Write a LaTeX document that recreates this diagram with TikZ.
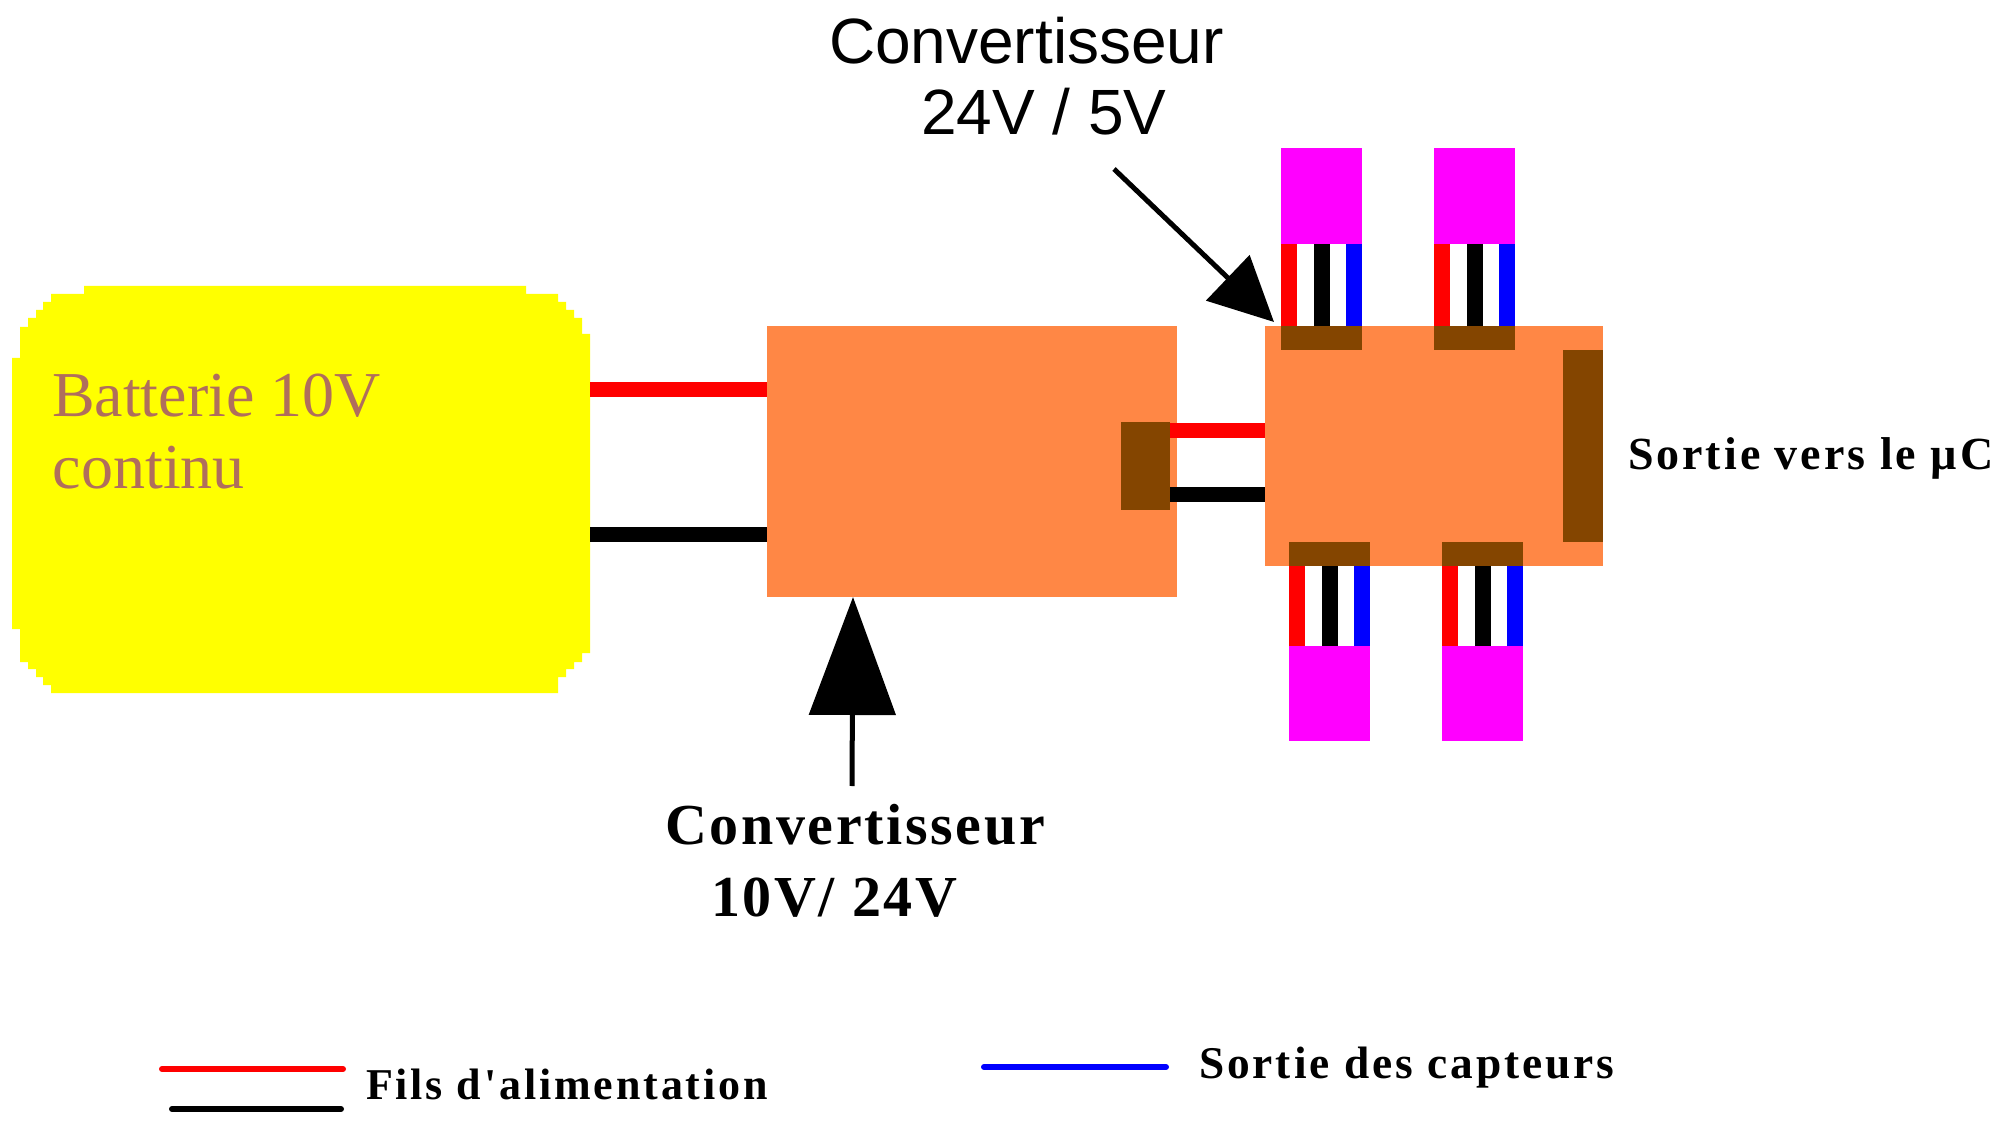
\documentclass[tikz,border=0pt]{standalone}
\usepackage{fontspec}
\setmainfont{Liberation Serif}
\newfontfamily\arialf{Liberation Sans}
\newfontfamily\bolda[LetterSpace=4.6]{Liberation Serif Bold}
\newfontfamily\boldb[LetterSpace=6.5]{Liberation Serif Bold}
\usetikzlibrary{arrows.meta,calc}
\definecolor{orangebox}{HTML}{FF8745}
\definecolor{brownpad}{HTML}{844500}
\definecolor{battxt}{HTML}{B06E5C}
\definecolor{battyellow}{HTML}{FFFF00}
\definecolor{sensmagenta}{HTML}{FF00FF}
\definecolor{wirered}{HTML}{FF0000}
\definecolor{wireblue}{HTML}{0000FF}
\tikzset{
  rectbox/.style n args={3}{minimum width=#1*0.5pt,minimum height=#2*0.5pt,anchor=north west,inner sep=0pt,outer sep=0pt,fill=#3},
  txt/.style={anchor=base west,inner sep=0pt,outer sep=0pt},
  bigwire/.style={line width=7.5pt,#1},
  pinwire/.style={line width=8pt,#1},
  legendwire/.style={line width=3pt,line cap=round,#1},
  bigarrow/.style n args={2}{line width=2.5pt,-{Triangle[length=#1,width=#2]}},
  sanslabel/.style={txt,font=\arialf\fontsize{32pt}{36pt}\selectfont},
  battlabel/.style={txt,text=battxt,font=\fontsize{32pt}{36pt}\selectfont},
  convlabel/.style={txt,font=\bolda\fontsize{29pt}{32pt}\selectfont},
  smalllabel/.style={txt,font=\boldb\fontsize{#1}{26pt}\selectfont}
}
\begin{document}
\begin{tikzpicture}[x=0.5pt,y=-0.5pt]
\useasboundingbox (0,0) rectangle (2013,1128);
% battery
\fill[battyellow] (84,286) -- (526,286) |- (558,294) |- (566,302) |- (574,310) |- (582,318) |- (590,334) -- (590,653)
  -| (582,662) -| (574,669) -| (566,677) -| (558,693) -- (51,693) |- (43,685) |- (36,677) |- (28,669) |- (20,662) |- (12,629)
  -- (12,358) -| (20,327) -| (28,318) -| (36,310) -| (43,302) -| (51,294) -| cycle;
\node[rectbox={578}{407}{none}] (bat) at (12,286) {};
\node[battlabel] (battxt1) at (52,416) {Batterie 10V};
\node[battlabel] (battxt2) at (53,488) {continu};
% converters
\node[rectbox={410}{271}{orangebox}] (conva) at (767,326) {};
\node[rectbox={338}{240}{orangebox}] (convb) at (1265,326) {};
\node[rectbox={49}{88}{brownpad}] (padout) at (1121,422) {};
\node[rectbox={40}{192}{brownpad}] (padright) at (1563,350) {};
% wires
\coordinate (ya) at (0,390);
\coordinate (yb) at (0,534);
\coordinate (yc) at (0,430.5);
\coordinate (yd) at (0,494);
\draw[bigwire=wirered] (bat.east |- ya) -- (conva.west |- ya);
\draw[bigwire=black] (bat.east |- yb) -- (conva.west |- yb);
\draw[bigwire=wirered] (padout.east |- yc) -- (convb.west |- yc);
\draw[bigwire=black] (padout.east |- yd) -- (convb.west |- yd);
% sensors
\foreach \n/\x in {1/1281,2/1434}{
  \node[rectbox={81}{96}{sensmagenta}] (sens\n) at (\x,148) {};
  \node[rectbox={81}{24}{brownpad}] (pad\n) at (\x,326) {};
  \draw[pinwire=wirered] ($(sens\n.south west)!0.1!(sens\n.south east)$) -- ($(pad\n.north west)!0.1!(pad\n.north east)$);
  \draw[pinwire=black] (sens\n.south) -- (pad\n.north);
  \draw[pinwire=wireblue] ($(sens\n.south west)!0.9!(sens\n.south east)$) -- ($(pad\n.north west)!0.9!(pad\n.north east)$);
}
\foreach \n/\x in {3/1289,4/1442}{
  \node[rectbox={81}{95}{sensmagenta}] (sens\n) at (\x,646) {};
  \node[rectbox={81}{24}{brownpad}] (pad\n) at (\x,542) {};
  \draw[pinwire=wirered] ($(pad\n.south west)!0.1!(pad\n.south east)$) -- ($(sens\n.north west)!0.1!(sens\n.north east)$);
  \draw[pinwire=black] (pad\n.south) -- (sens\n.north);
  \draw[pinwire=wireblue] ($(pad\n.south west)!0.9!(pad\n.south east)$) -- ($(sens\n.north west)!0.9!(sens\n.north east)$);
}
% labels
\node[sanslabel] (lbconvtop1) at (829,64) {Convertisseur};
\node[sanslabel] (lbconvtop2) at (921,135) {24V / 5V};
\node[convlabel] (lbconvbot1) at (665,844) {Convertisseur};
\node[convlabel] (lbconvbot2) at (711,916) {10V/ 24V};
\node[smalllabel=23pt] (lbout) at (1628,470) {Sortie vers le µC};
\node[smalllabel=22pt] (lbfils) at (366,1099) {Fils d'alimentation};
\node[smalllabel=22.7pt] (lbcapt) at (1199,1078) {Sortie des capteurs};
% arrows
\coordinate (arrAs) at (852,786);
\coordinate (arrAe) at (853,597);
\coordinate (arrBs) at (1114,169);
\coordinate (arrBe) at (1274,322);
\draw[bigarrow={59pt}{43pt}] (arrAs) -- (arrAe);
\draw[bigarrow={32pt}{31pt}] (arrBs) -- (arrBe);
% legend
\coordinate (lgra) at (162,1069);
\coordinate (lgrb) at (343,1069);
\coordinate (lgka) at (172,1109);
\coordinate (lgkb) at (341,1109);
\coordinate (lgba) at (984,1067);
\coordinate (lgbb) at (1166,1067);
\draw[legendwire=wirered] (lgra) -- (lgrb);
\draw[legendwire=black] (lgka) -- (lgkb);
\draw[legendwire=wireblue] (lgba) -- (lgbb);
\end{tikzpicture}
\end{document}
